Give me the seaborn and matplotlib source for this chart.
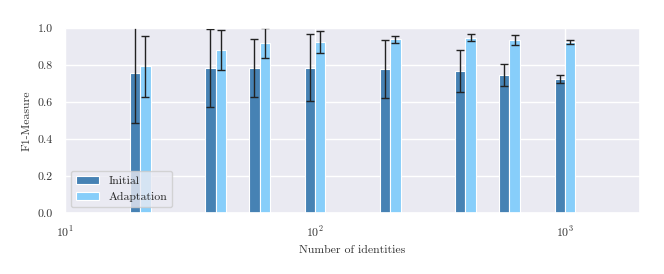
import numpy as np
import pandas as pd
import seaborn as sns
import matplotlib.pyplot as plt

# number of identities and F1 scores (mean, std) for both settings
identities = [20, 40, 60, 100, 200, 400, 600, 1000]
initial_mean = [0.756, 0.785, 0.785, 0.785, 0.777, 0.768, 0.745, 0.724]
initial_std = [0.27, 0.21, 0.156, 0.18, 0.158, 0.112, 0.058, 0.022]
adapt_mean = [0.792, 0.881, 0.920, 0.926, 0.939, 0.948, 0.936, 0.924]
adapt_std = [0.163, 0.106, 0.08, 0.059, 0.018, 0.02, 0.028, 0.01]

df = pd.DataFrame({
    "identities": identities,
    "initial": initial_mean,
    "initial_std": initial_std,
    "adaptation": adapt_mean,
    "adaptation_std": adapt_std,
})

sns.set_theme(style="darkgrid")
plt.rcParams["font.family"] = "serif"
plt.rcParams["font.serif"] = ["cmr10", "DejaVu Serif"]
plt.rcParams["mathtext.fontset"] = "cm"
plt.rcParams["axes.formatter.use_mathtext"] = True

fig = plt.figure(figsize=(6.64, 2.74), dpi=100)
ax = fig.add_axes([0.098, 0.223, 0.866, 0.675])

# bars are drawn side by side in log space
f = 1.1
x = df["identities"].to_numpy(dtype=float)
ax.bar(x / f, df["initial"], width=x - x / f, align="edge", color="steelblue",
       edgecolor="white", linewidth=0.8, label="Initial")
ax.bar(x, df["adaptation"], width=x * f - x, align="edge", color="lightskyblue",
       edgecolor="white", linewidth=0.8, label="Adaptation")
ax.errorbar(np.sqrt(x * x / f), df["initial"], yerr=df["initial_std"], fmt="none",
            ecolor="#222222", elinewidth=1, capsize=3, capthick=1)
ax.errorbar(np.sqrt(x * x * f), df["adaptation"], yerr=df["adaptation_std"], fmt="none",
            ecolor="#222222", elinewidth=1, capsize=3, capthick=1)

ax.set_xscale("log")
ax.set_xlim(10, 2000)
ax.set_ylim(0, 1.0)
ax.set_yticks(np.arange(0, 1.01, 0.2))
ax.set_yticklabels([f"{v:.1f}" for v in np.arange(0, 1.01, 0.2)])
ax.minorticks_off()
ax.tick_params(labelsize=8.5, colors="#333333", pad=3)
ax.set_xlabel("Number of identities", fontsize=8.5, color="#333333")
ax.set_ylabel("F1-Measure", fontsize=8.5, color="#333333")
ax.legend(loc="lower left", fontsize=8.5, frameon=True)

fig.savefig("out.png", dpi=100)
